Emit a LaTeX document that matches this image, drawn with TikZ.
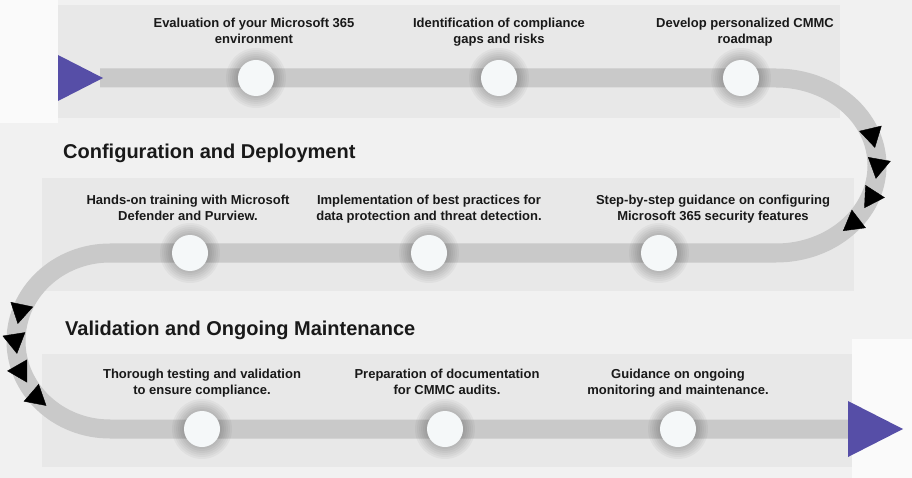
\documentclass[tikz,border=0pt]{standalone}
\usepackage{fontspec}
\setmainfont{Liberation Sans}
\usetikzlibrary{positioning}
\usetikzlibrary{arrows.meta}
\usetikzlibrary{decorations.markings}

\definecolor{pagebg}{HTML}{F1F1F1}
\definecolor{bandbg}{HTML}{E8E8E8}
\definecolor{whitebg}{HTML}{FAFAFA}
\definecolor{trackgray}{HTML}{C9C9C9}
\definecolor{dotwhite}{HTML}{F5F8F9}
\definecolor{startpurple}{HTML}{564EA7}

\tikzset{
	steptext/.style = {align = center, inner sep = 0pt, anchor = base, font = \fontsize{13}{16}\selectfont\bfseries, text = black!90},
	phase/.style = {anchor = base west, inner sep = 0pt, font = \fontsize{20}{24}\selectfont\bfseries, text = black!90},
	dot/.style = {circle, fill = dotwhite, minimum size = 36pt, inner sep = 0pt},
	glow/.style = {fill = black, opacity = 0.035},
	track/.style = {line width = 19pt, draw = trackgray},
	turnarrows/.style = {decorate, decoration = {markings,
		mark = at position 0.44 with {\arrow{Triangle[length = 20pt, width = 23pt]}},
		mark = at position 0.545 with {\arrow{Triangle[length = 20pt, width = 23pt]}},
		mark = at position 0.652 with {\arrow{Triangle[length = 20pt, width = 23pt]}},
		mark = at position 0.758 with {\arrow{Triangle[length = 20pt, width = 23pt]}}}}
}

\begin{document}
\begin{tikzpicture}[x = 1pt, y = -1pt, node distance = 34pt]
			\useasboundingbox (0,0) rectangle (912,478);
			\fill[pagebg] (0,0) rectangle (912,478);
			\fill[whitebg] (0,0) rectangle (58,123);
			\fill[whitebg] (852,339) rectangle (912,478);
			\fill[bandbg] (58,5) rectangle (840,118);
			\fill[bandbg] (42,178) rectangle (854,291);
			\fill[bandbg] (42,354) rectangle (852,467);
			\node[phase] (config) at (63,159) {Configuration and Deployment};
			\node[phase] (valid) at (65,335) {Validation and Ongoing Maintenance};
			\coordinate (trackstart) at (100,78);
			\coordinate (rturn) at (776,78);
			\coordinate (lturn) at (110,253);
			\coordinate (trackend) at (850,429);
			\draw[track] (trackstart) -- (rturn) arc[start angle = 90, end angle = -90, x radius = 101pt, y radius = 87.5pt] -- (lturn) arc[start angle = 90, end angle = 270, x radius = 94pt, y radius = 88pt] -- (trackend);
			\path[turnarrows] (rturn) arc[start angle = 90, end angle = -90, x radius = 101pt, y radius = 87.5pt];
			\path[turnarrows] (lturn) arc[start angle = 90, end angle = 270, x radius = 94pt, y radius = 88pt];
			\fill[startpurple] (58,55) -- (103,78) -- (58,101) -- cycle;
			\fill[startpurple] (848,401) -- (903,429) -- (848,457) -- cycle;
			\foreach \pos in {(256,78), (499,78), (741,78), (190,253), (429,253), (659,253), (202,429), (445,429), (678,429)}
				\foreach \r in {20, 22, ..., 30}
					\fill[glow] \pos circle[radius = \r pt];
			\node[dot] (eval) at (256,78) {};
			\node[dot] (gaps) at (499,78) {};
			\node[dot] (roadmap) at (741,78) {};
			\node[dot] (training) at (190,253) {};
			\node[dot] (bestprac) at (429,253) {};
			\node[dot] (guidance) at (659,253) {};
			\node[dot] (testing) at (202,429) {};
			\node[dot] (docs) at (445,429) {};
			\node[dot] (monitor) at (678,429) {};
			\node[above = of eval.center, xshift = -2pt, steptext] (evaltxt) {Evaluation of your Microsoft 365\\environment};
			\node[above = of gaps.center, steptext] (gapstxt) {Identification of compliance\\gaps and risks};
			\node[above = of roadmap.center, xshift = 4pt, steptext] (roadmaptxt) {Develop personalized CMMC\\roadmap};
			\node[above = 32pt of training.center, xshift = -2pt, steptext] (trainingtxt) {Hands-on training with Microsoft\\Defender and Purview.};
			\node[above = 32pt of bestprac.center, steptext] (bestpractxt) {Implementation of best practices for\\data protection and threat detection.};
			\node[above = 32pt of guidance.center, xshift = 54pt, steptext] (guidancetxt) {Step-by-step guidance on configuring\\Microsoft 365 security features};
			\node[above = 35pt of testing.center, steptext] (testingtxt) {Thorough testing and validation\\to ensure compliance.};
			\node[above = 35pt of docs.center, xshift = 2pt, steptext] (docstxt) {Preparation of documentation\\for CMMC audits.};
			\node[above = 35pt of monitor.center, steptext] (monitortxt) {Guidance on ongoing\\monitoring and maintenance.};
		\end{tikzpicture}
\end{document}
